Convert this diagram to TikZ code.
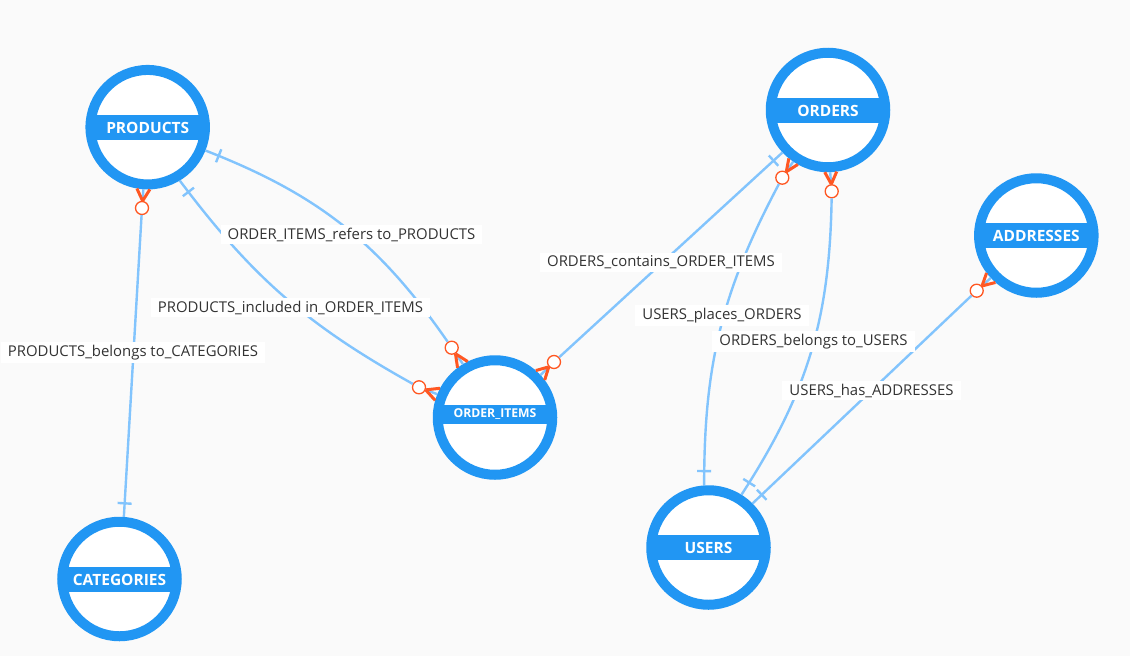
\documentclass[tikz,border=0pt]{standalone}
\usepackage{fontspec}
\setmainfont{Open Sans}
\definecolor{entityblue}{HTML}{2196F3}
\definecolor{relblue}{HTML}{82C4FD}
\definecolor{footred}{HTML}{FF5722}
\definecolor{pagegrey}{HTML}{FAFAFA}
\definecolor{labelgrey}{HTML}{333333}
\begin{document}
\begin{tikzpicture}[
						x=1pt, y=-1pt,
						entity/.style={circle, draw=entityblue, fill=white, line width=10pt, minimum size=114.5pt, inner sep=0pt},
						band/.style={rectangle, fill=entityblue, text=white, font=\fontsize{15.5}{18}\selectfont\bfseries, minimum width=108pt, minimum height=25pt, inner sep=0pt},
						relline/.style={draw=relblue, line width=2.4pt},
						tickmark/.style={rectangle, fill=relblue, minimum width=2.4pt, minimum height=14pt, inner sep=0pt},
						manyend/.style={circle, draw=footred, fill=white, line width=1.3pt, minimum size=13pt, inner sep=0pt},
						crowfoot/.style={draw=footred, line width=3pt},
						rellabel/.style={rectangle, fill=white, text=labelgrey, font=\fontsize{14.9}{17}\selectfont, inner xsep=7pt, inner ysep=3pt}]
					\useasboundingbox [fill=pagegrey] (0,0) rectangle (1130,656);

					\node [entity] (PRODUCTS) at (147.7,127.2) {};
					\node [entity] (ORDERS) at (828,110) {};
					\node [entity] (ADDRESSES) at (1036.3,235.5) {};
					\node [entity] (ORDERITEMS) at (495,417.5) {};
					\node [entity] (CATEGORIES) at (119.5,579) {};
					\node [entity] (USERS) at (708.5,547.5) {};

					\node [band] (PRODUCTSband) at (147.7,127.6) {PRODUCTS};
					\node [band] (ORDERSband) at (828,110.5) {ORDERS};
					\node [band] (ADDRESSESband) at (1036.3,235.8) {ADDRESSES};
					\node [band, minimum height=19pt, font=\fontsize{12.2}{14}\selectfont\bfseries] (ORDERITEMSband) at (495,414) {ORDER\_ITEMS};
					\node [band] (CATEGORIESband) at (119.5,579.5) {CATEGORIES};
					\node [band] (USERSband) at (708.5,547.5) {USERS};

					\node [manyend] (mBelongsCat) at (142,208) {};
					\node [manyend] (mRefers) at (451.7,347.7) {};
					\node [manyend] (mIncluded) at (419,387.3) {};
					\node [manyend] (mContains) at (554,362) {};
					\node [manyend] (mPlaces) at (782.3,177.7) {};
					\node [manyend] (mBelongsUsers) at (831.7,191.3) {};
					\node [manyend] (mHas) at (976.7,290.7) {};

					\path [relline] (mBelongsCat) edge node [tickmark, pos=.955, sloped] {} (CATEGORIES.86);
					\path [relline] (PRODUCTS.-22) edge [bend left=17] node [tickmark, pos=.04, sloped] {} (mRefers);
					\path [relline] (PRODUCTS.-59) edge [bend right=12] node [tickmark, pos=.04, sloped] {} (mIncluded);
					\path [relline] (ORDERS.223) edge node [tickmark, pos=.04, sloped] {} (mContains);
					\path [relline] (mPlaces) edge [bend right=14] node [tickmark, pos=.96, sloped] {} (USERS.94);
					\path [relline] (mBelongsUsers) edge [bend left=16] node [tickmark, pos=.96, sloped] {} (USERS.58);
					\path [relline] (mHas) edge node [tickmark, pos=.958, sloped] {} (USERS.45);

					\path [relline] (mBelongsCat) edge (PRODUCTS.266);
					\path [relline] (mRefers) edge (ORDERITEMS.121);
					\path [relline] (mIncluded) edge (ORDERITEMS.158);
					\path [relline] (mContains) edge (ORDERITEMS.43);
					\path [relline] (mPlaces) edge (ORDERS.236);
					\path [relline] (mBelongsUsers) edge (ORDERS.272);
					\path [relline] (mHas) edge (ADDRESSES.223);

					\path [crowfoot] (mBelongsCat.85) edge (PRODUCTS.260);
					\path [crowfoot] (mBelongsCat.85) edge (PRODUCTS.272);
					\path [crowfoot] (mRefers.-58) edge (ORDERITEMS.127);
					\path [crowfoot] (mRefers.-58) edge (ORDERITEMS.116);
					\path [crowfoot] (mIncluded.-21) edge (ORDERITEMS.152);
					\path [crowfoot] (mIncluded.-21) edge (ORDERITEMS.164);
					\path [crowfoot] (mContains.223) edge (ORDERITEMS.49);
					\path [crowfoot] (mContains.223) edge (ORDERITEMS.37);
					\path [crowfoot] (mPlaces.56) edge (ORDERS.231);
					\path [crowfoot] (mPlaces.56) edge (ORDERS.241);
					\path [crowfoot] (mBelongsUsers.93) edge (ORDERS.267);
					\path [crowfoot] (mBelongsUsers.93) edge (ORDERS.278);
					\path [crowfoot] (mHas.42) edge (ADDRESSES.217);
					\path [crowfoot] (mHas.42) edge (ADDRESSES.229);

					\node [rellabel] (lBelongsCat) at (133,352.5) {PRODUCTS\_belongs to\_CATEGORIES};
					\node [rellabel] (lRefers) at (351.5,234.5) {ORDER\_ITEMS\_refers to\_PRODUCTS};
					\node [rellabel] (lIncluded) at (290.5,307.5) {PRODUCTS\_included in\_ORDER\_ITEMS};
					\node [rellabel] (lContains) at (661,262.5) {ORDERS\_contains\_ORDER\_ITEMS};
					\node [rellabel] (lPlaces) at (722,315.5) {USERS\_places\_ORDERS};
					\node [rellabel] (lBelongsUsers) at (813.5,341.5) {ORDERS\_belongs to\_USERS};
					\node [rellabel] (lHas) at (871.5,390.5) {USERS\_has\_ADDRESSES};
				\end{tikzpicture}
\end{document}
